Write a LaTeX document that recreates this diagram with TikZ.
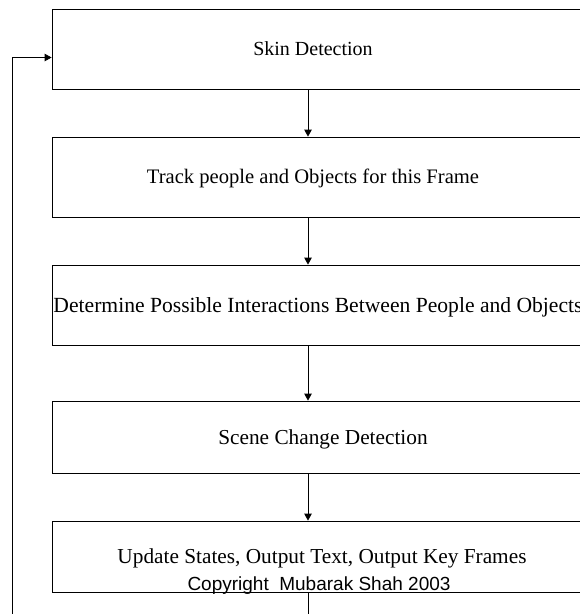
\documentclass[tikz,border=0pt]{standalone}
\usepackage{fontspec}
\setmainfont{Liberation Serif}
\newfontfamily\copyfont{Liberation Sans}
\usetikzlibrary{arrows.meta}
\tikzset{
  stagebox/.style={draw=black, line width=0.8pt, rectangle, inner sep=0pt,
    minimum width=542pt},
  % caption sized by its cap height, so it sits centred on the given point
  stagetext/.style={inner sep=0pt, text depth=0pt,
    font=\fontsize{#1}{#1}\selectfont, text height=0.662*#1 pt},
  flow/.style={line width=0.8pt, -{Triangle[length=7pt,width=7.5pt]}},
  plainline/.style={line width=0.8pt}
}
\begin{document}
\begin{tikzpicture}[x=1pt,y=-1pt]
  \useasboundingbox (0,0) rectangle (580,614);
  % processing stages, top to bottom
  \node[stagebox, minimum height=80pt] (b1) at (323,49) {};
  \node[stagebox, minimum height=80pt] (b2) at (323,177) {};
  \node[stagebox, minimum height=80pt] (b3) at (323,305) {};
  \node[stagebox, minimum height=72pt] (b4) at (323,437) {};
  \node[stagebox, minimum height=71pt] (b5) at (323,556.5) {};
  % stage captions
  \node[stagetext=20] (t1) at (313,49) {Skin Detection};
  \node[stagetext=20.6] (t2) at (313,177) {Track people and Objects for this Frame};
  \node[stagetext=21.6] (t3) at (318,305) {Determine Possible Interactions Between People and Objects};
  \node[stagetext=21.3] (t4) at (323,437) {Scene Change Detection};
  \node[stagetext=21.3] (t5) at (322,556) {Update States, Output Text, Output Key Frames};
  \node[anchor=base, inner sep=0pt, font=\copyfont\fontsize{19}{22}\selectfont] (cr) at (319,590) {Copyright\ \ Mubarak Shah 2003};
  % vertical flow line and loop-back path
  \coordinate (ax) at (308,0);
  \coordinate (bot) at (308,614);
  \coordinate (fb) at (12,614);
  \draw[flow] (b1.south -| ax) -- (b2.north -| ax);
  \draw[flow] (b2.south -| ax) -- (b3.north -| ax);
  \draw[flow] (b3.south -| ax) -- (b4.north -| ax);
  \draw[flow] (b4.south -| ax) -- (b5.north -| ax);
  \draw[plainline] (b5.south -| ax) -- (bot);
  \draw[flow] (fb) |- ([yshift=-8.5pt]b1.west);
\end{tikzpicture}
\end{document}
